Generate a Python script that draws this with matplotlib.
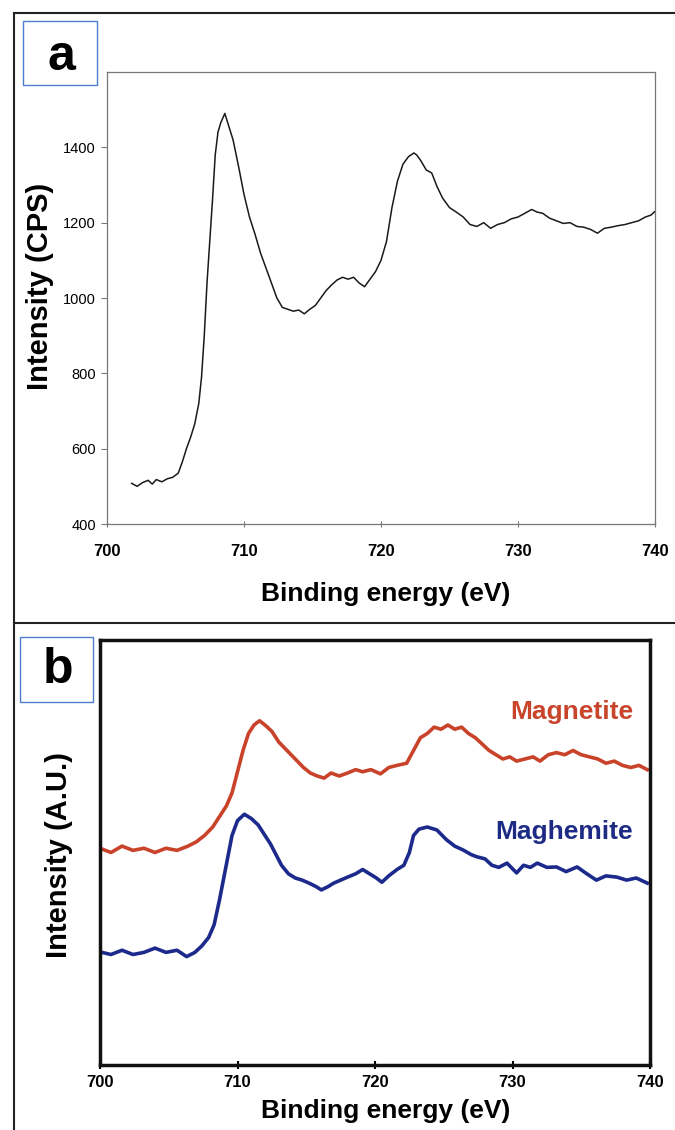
import numpy as np
import matplotlib.pyplot as plt
from matplotlib.patches import Rectangle
from matplotlib.lines import Line2D

plt.rcParams['font.family'] = ['Liberation Sans', 'DejaVu Sans']

# %%
# panel a : Fe 2p spectrum (CPS)
energy_a = [701.8, 702.2, 702.6, 703.0, 703.3, 703.6, 704.0, 704.4, 704.8, 705.2,
            705.5, 705.8, 706.1, 706.4, 706.7, 706.9, 707.1, 707.3, 707.5, 707.7,
            707.9, 708.1, 708.3, 708.6, 708.9, 709.2, 709.6, 710.0, 710.4, 710.8,
            711.2, 711.6, 712.0, 712.4, 712.8, 713.2, 713.6, 714.0, 714.4, 714.8,
            715.2, 715.6, 716.0, 716.4, 716.8, 717.2, 717.6, 718.0, 718.4, 718.8,
            719.2, 719.6, 720.0, 720.4, 720.8, 721.2, 721.6, 722.0, 722.4, 722.6,
            722.9, 723.3, 723.7, 724.1, 724.5, 725.0, 725.5, 726.0, 726.5, 727.0,
            727.5, 728.0, 728.5, 729.0, 729.5, 730.0, 730.5, 731.0, 731.4, 731.8,
            732.3, 732.8, 733.3, 733.8, 734.3, 734.8, 735.3, 735.8, 736.3, 736.8,
            737.3, 737.8, 738.3, 738.8, 739.3, 739.7, 740.0]
cps_a = [508, 500, 510, 516, 506, 518, 512, 520, 524, 535,
         565, 600, 630, 665, 720, 790, 900, 1040, 1150, 1260,
         1380, 1440, 1465, 1490, 1455, 1420, 1350, 1275, 1215, 1170,
         1120, 1080, 1040, 1000, 975, 970, 965, 968, 958, 970,
         980, 1000, 1020, 1035, 1048, 1055, 1050, 1055, 1040, 1030,
         1050, 1070, 1100, 1150, 1240, 1310, 1355, 1375, 1385, 1380,
         1365, 1340, 1332, 1295, 1265, 1240, 1228, 1215, 1195, 1190,
         1200, 1185, 1195, 1200, 1210, 1215, 1225, 1235, 1228, 1225,
         1212, 1205, 1198, 1200, 1190, 1188, 1182, 1172, 1185, 1188,
         1192, 1195, 1200, 1205, 1215, 1220, 1230]

# panel b : magnetite / maghemite (A.U.)
energy_mt = [700.0, 700.8, 701.6, 702.4, 703.2, 704.0, 704.8, 705.6, 706.4, 707.0,
             707.6, 708.2, 708.7, 709.2, 709.6, 710.0, 710.4, 710.8, 711.2, 711.6,
             712.0, 712.5, 713.0, 713.6, 714.2, 714.8, 715.3, 715.8, 716.3, 716.8,
             717.4, 718.0, 718.6, 719.1, 719.7, 720.4, 721.0, 721.6, 722.3, 722.8,
             723.3, 723.8, 724.3, 724.8, 725.3, 725.8, 726.3, 726.8, 727.3, 727.8,
             728.3, 728.8, 729.3, 729.8, 730.3, 730.9, 731.5, 732.0, 732.6, 733.2,
             733.8, 734.4, 735.0, 735.6, 736.2, 736.8, 737.4, 738.0, 738.6, 739.2,
             739.8]
int_mt = [51, 50, 51.5, 50.5, 51, 50, 51, 50.5, 51.5, 52.5,
          54, 56, 58.5, 61, 64, 69, 74, 78, 80, 81,
          80, 78.5, 76, 74, 72, 70, 68.7, 68, 67.5, 68.7,
          68, 68.7, 69.5, 69, 69.5, 68.5, 70, 70.5, 71, 74,
          77, 78, 79.5, 79, 80, 79, 79.5, 78, 77, 75.5,
          74, 73, 72, 72.5, 71.5, 72, 72.5, 71.5, 73, 73.5,
          73, 74, 73, 72.5, 72, 71, 71.5, 70.5, 70, 70.5,
          69.5]

energy_mh = [700.0, 700.8, 701.6, 702.4, 703.2, 704.0, 704.8, 705.6, 706.3, 706.9,
             707.4, 707.9, 708.3, 708.7, 709.0, 709.3, 709.6, 710.0, 710.5, 711.0,
             711.5, 712.0, 712.4, 712.8, 713.2, 713.7, 714.2, 714.7, 715.2, 715.7,
             716.1, 716.6, 717.0, 717.5, 718.0, 718.6, 719.1, 719.6, 720.1, 720.5,
             721.0, 721.6, 722.1, 722.5, 722.8, 723.2, 723.8, 724.5, 725.2, 725.8,
             726.4, 727.0, 727.4, 728.0, 728.5, 729.0, 729.6, 730.3, 730.8, 731.3,
             731.8, 732.5, 733.2, 733.9, 734.7, 735.4, 736.1, 736.8, 737.6, 738.3,
             739.0, 739.8]
int_mh = [26.6, 26, 27, 26, 26.5, 27.5, 26.5, 27, 25.5, 26.5,
          28, 30, 33, 39, 44, 49, 54, 57.5, 59, 58,
          56.5, 54, 52, 49.5, 47, 45, 44, 43.5, 42.8, 42,
          41.2, 42, 42.8, 43.5, 44.2, 45, 46, 45, 44, 43,
          44.5, 46, 47, 50, 54, 55.5, 56, 55.3, 53, 51.5,
          50.6, 49.5, 49, 48.5, 47, 46.5, 47.5, 45.2, 47, 46.5,
          47.5, 46.5, 46.6, 45.5, 46.6, 45, 43.5, 44.5, 44.2, 43.5,
          44, 42.8]

xticks = [700, 710, 720, 730, 740]
yticks_a = [400, 600, 800, 1000, 1200, 1400]

W, H = 675, 1130
fig = plt.figure(figsize=(W / 100, H / 100), dpi=100)

def fx(px):
    return px / W

def fy(py):
    return 1 - py / H

# %%
# cadre extérieur
for xs, ys in [((14, 675), (13, 13)), ((14, 14), (13, 1130)), ((14, 675), (623, 623))]:
    fig.add_artist(Line2D([fx(xs[0]), fx(xs[1])], [fy(ys[0]), fy(ys[1])],
                          transform=fig.transFigure, color='#222222', lw=1.5))

# %%
# panel a
ax1 = fig.add_axes([fx(107), fy(524), fx(655) - fx(107), fy(72) - fy(524)])
ax1.plot(energy_a, cps_a, color='#1a1a1a', lw=1.1)
ax1.set_xlim(700, 740)
ax1.set_ylim(400, 1600)
ax1.set_xticks(xticks)
ax1.set_yticks(yticks_a)
for s in ax1.spines.values():
    s.set_color('#777777')
    s.set_linewidth(0.9)
ax1.tick_params(axis='y', direction='out', length=4, width=0.8, color='#777777',
                labelsize=10.5, pad=4)
ax1.tick_params(axis='x', direction='inout', length=5, width=0.8, color='#777777',
                labelsize=12, pad=12)
for lab in ax1.get_xticklabels():
    lab.set_fontweight('bold')
fig.text(fx(40), fy(286), 'Intensity (CPS)', rotation=90, ha='center', va='center',
         fontsize=21, fontweight='bold')
fig.text(fx(386), fy(594), 'Binding energy (eV)', ha='center', va='center',
         fontsize=19, fontweight='bold')

# label box a
fig.add_artist(Rectangle((fx(23), fy(85)), fx(97) - fx(23), fy(21) - fy(85),
                         transform=fig.transFigure, fill=False, edgecolor='#4a7fd0', lw=1))
fig.text(fx(61), fy(57), 'a', ha='center', va='center', fontsize=36, fontweight='bold')

# %%
# panel b
ax2 = fig.add_axes([fx(100), fy(1065), fx(650) - fx(100), fy(640) - fy(1065)])
ax2.plot(energy_mt, int_mt, color='#c9432b', lw=2.6)
ax2.plot(energy_mh, int_mh, color='#1c2a8c', lw=2.6)
ax2.set_xlim(700, 740)
ax2.set_ylim(0, 100)
ax2.set_xticks(xticks)
ax2.set_yticks([])
for s in ax2.spines.values():
    s.set_color('#111111')
    s.set_linewidth(2.5)
ax2.tick_params(axis='x', direction='inout', length=6, width=1.5,
                labelsize=12, pad=4)
for lab in ax2.get_xticklabels():
    lab.set_fontweight('bold')
ax2.text(fx(633), fy(712), 'Magnetite', transform=fig.transFigure, ha='right', va='center',
         fontsize=19, fontweight='bold', color='#c8452c')
ax2.text(fx(633), fy(832), 'Maghemite', transform=fig.transFigure, ha='right', va='center',
         fontsize=19, fontweight='bold', color='#1d2b85')
fig.text(fx(59), fy(855), 'Intensity (A.U.)', rotation=90, ha='center', va='center',
         fontsize=21, fontweight='bold')
fig.text(fx(386), fy(1111), 'Binding energy (eV)', ha='center', va='center',
         fontsize=19, fontweight='bold')

# label box b
fig.add_artist(Rectangle((fx(20), fy(702)), fx(93) - fx(20), fy(637) - fy(702),
                         transform=fig.transFigure, fill=False, edgecolor='#4a7fd0', lw=1))
fig.text(fx(58), fy(670), 'b', ha='center', va='center', fontsize=36, fontweight='bold')

fig.savefig('out.png', dpi=100)
